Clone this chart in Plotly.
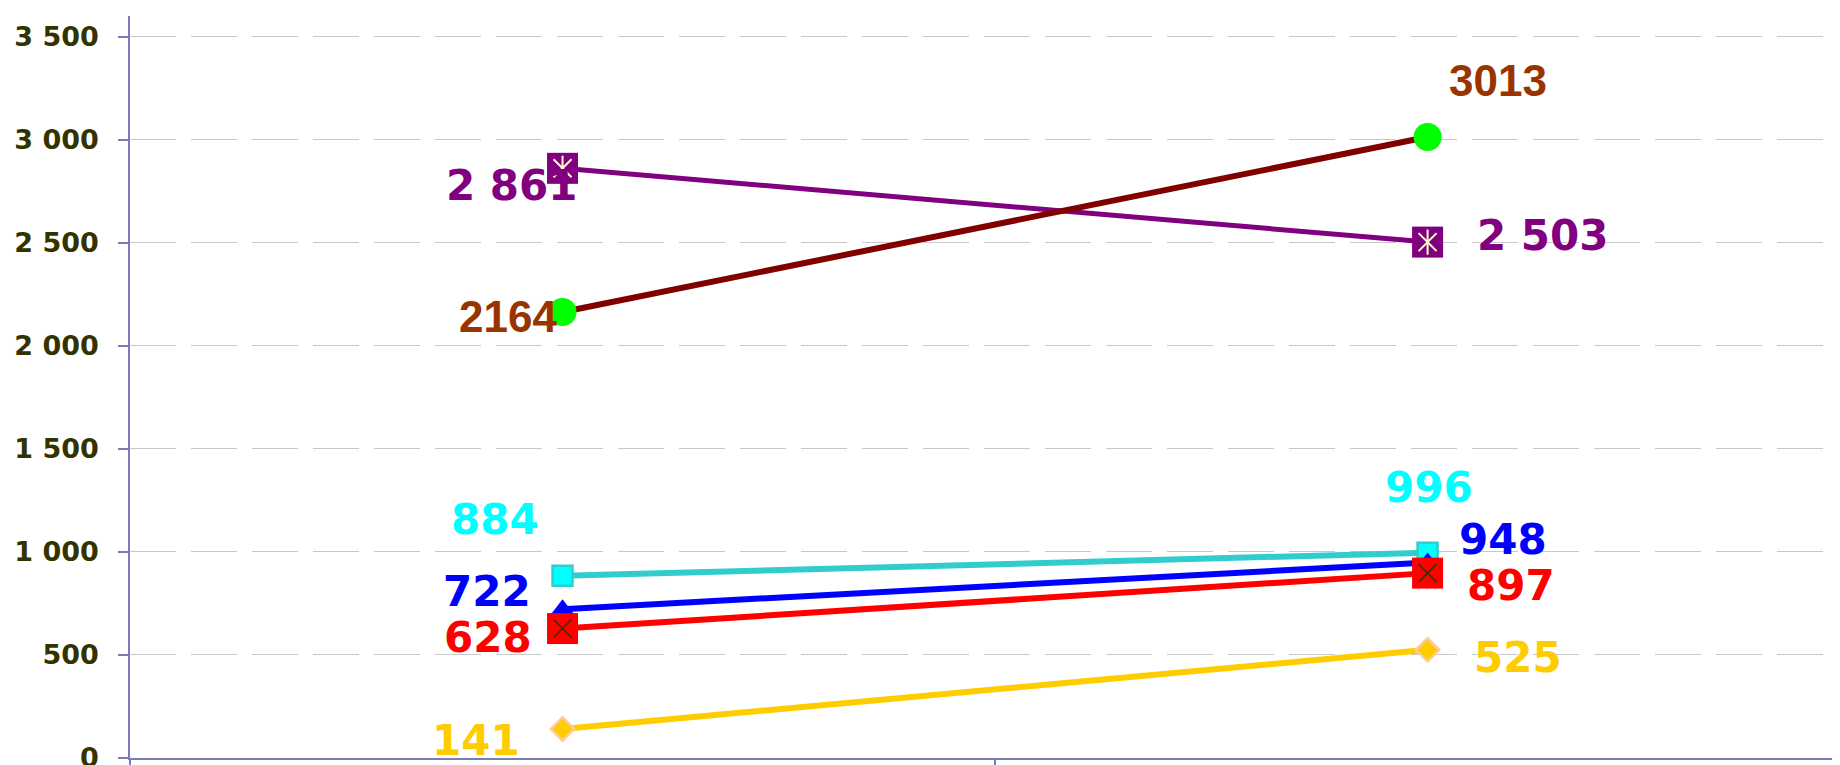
import plotly.graph_objects as go

# ---- data ----
categories = ["A", "B"]
vals_purple = [2861, 2503]
vals_darkred = [2164, 3013]
vals_cyan = [884, 996]
vals_blue = [722, 948]
vals_red = [628, 897]
vals_gold = [141, 525]
labels_purple = ["2 861", "2 503"]
labels_darkred = ["2164", "3013"]
labels_cyan = ["884", "996"]
labels_blue = ["722", "948"]
labels_red = ["628", "897"]
labels_gold = ["141", "525"]
y_tickvals = [0, 500, 1000, 1500, 2000, 2500, 3000, 3500]
y_ticktext = ["0", "500", "1 000", "1 500", "2 000", "2 500", "3 000", "3 500"]

fig = go.Figure()

def line_trace(vals, lcolor, lw, symbol, size, mcolor, mline_color=None, mline_w=0):
    fig.add_trace(go.Scatter(
        x=categories, y=vals, mode="lines+markers",
        line=dict(color=lcolor, width=lw),
        marker=dict(symbol=symbol, size=size, color=mcolor,
                    line=dict(color=mline_color or mcolor, width=mline_w)),
        hoverinfo="skip", showlegend=False, cliponaxis=False))

def overlay(vals, symbol, size, color, w):
    fig.add_trace(go.Scatter(
        x=categories, y=vals, mode="markers",
        marker=dict(symbol=symbol, size=size, color=color,
                    line=dict(color=color, width=w)),
        hoverinfo="skip", showlegend=False, cliponaxis=False))

# purple with asterisk-square
line_trace(vals_purple, "#800080", 5, "square", 31, "#800080")
overlay(vals_purple, "x-thin-open", 18, "#ffffcc", 2)
overlay(vals_purple, "line-ns-open", 18, "#ffffcc", 2)
# dark red with green circle
line_trace(vals_darkred, "#800000", 6, "circle", 28, "#00ff00")
# cyan
line_trace(vals_cyan, "#33cccc", 6, "square", 20, "#00ffff", "#33cccc", 2.5)
# blue
line_trace(vals_blue, "#0000ff", 6, "triangle-up", 20, "#0000ff")
# red square with X
line_trace(vals_red, "#ff0000", 6, "square", 31, "#ff0000")
overlay(vals_red, "x-thin-open", 18, "#333300", 1.5)
# gold
line_trace(vals_gold, "#ffcc00", 6, "diamond", 18, "#ffcc00", "#ffcc99", 2.5)

# ---- labels (offsets in pixels from points) ----
WIDE = "DejaVu Sans"
label_specs = [
    (vals_purple, labels_purple, "#800080", WIDE, 42, [(-51, 23), (115, -1)]),
    (vals_darkred, labels_darkred, "#993300", "Liberation Sans", 44, [(-55, 11), (70, -50)]),
    (vals_cyan, labels_cyan, "#00ffff", WIDE, 42, [(-68, -50), (1, -59)]),
    (vals_blue, labels_blue, "#0000ff", WIDE, 42, [(-76, -12), (75, -17)]),
    (vals_red, labels_red, "#ff0000", WIDE, 42, [(-75, 15), (83, 18)]),
    (vals_gold, labels_gold, "#ffcc00", WIDE, 42, [(-87, 18), (90, 14)]),
]
for vals, texts, color, fam, fsize, offs in label_specs:
    for i, (v, t) in enumerate(zip(vals, texts)):
        dx, dy = offs[i]
        fig.add_annotation(x=categories[i], y=v, text="<b>%s</b>" % t,
                           showarrow=False, xanchor="center", yanchor="middle",
                           xshift=dx, yshift=-dy + 6,
                           font=dict(family=fam, size=fsize, color=color))

axis_color = "#7b7bb5"
fig.update_layout(
    width=1840, height=765,
    margin=dict(l=122, r=0, t=8, b=12),
    paper_bgcolor="white", plot_bgcolor="white",
    showlegend=False,
    xaxis=dict(type="category", range=[-0.5, 1.486], showgrid=False, zeroline=False,
               showline=True, linecolor=axis_color, linewidth=1.5,
               tickson="boundaries", ticks="outside", ticklen=14, tickcolor=axis_color,
               tickwidth=1.5, showticklabels=False),
    yaxis=dict(range=[0, 3600], tickvals=y_tickvals, ticktext=y_ticktext,
               showgrid=True, gridcolor="#c8c8c8", gridwidth=1, griddash="46px,15px",
               zeroline=False, showline=True, linecolor=axis_color, linewidth=1.5,
               ticks="outside", ticklen=10, tickcolor=axis_color, tickwidth=1.5,
               ticklabelstandoff=14, ticklabeloverflow="allow",
               tickfont=dict(family="DejaVu Sans", size=27, color="#333300", weight="bold")),
)

fig.write_html("out.html")
